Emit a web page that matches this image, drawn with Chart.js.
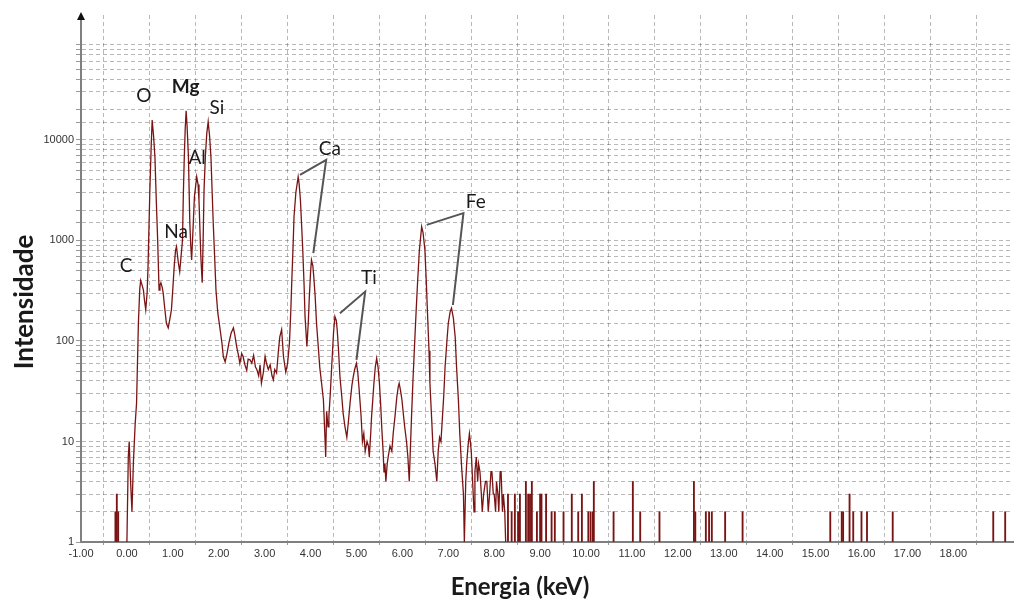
<!DOCTYPE html>
<html lang="pt">
<head>
<meta charset="UTF-8">
<title>Espectro EDS</title>
<script src="https://cdn.jsdelivr.net/npm/chart.js"></script>
<style>
  html, body { margin: 0; padding: 0; background: #fff; }
  #eds { display: block; }
</style>
</head>
<body>
<canvas id="eds" width="1014" height="601"></canvas>
<script>
// espectro principal: energia (keV) e contagens
const energia = [
  0.00, 0.03, 0.05, 0.08, 0.11, 0.14, 0.18, 0.21, 0.25, 0.28, 0.30, 0.33, 0.36, 0.38, 0.41, 0.44,
  0.46, 0.50, 0.53, 0.55, 0.58, 0.61, 0.64, 0.67, 0.70, 0.72, 0.74, 0.77, 0.79, 0.83, 0.86, 0.90,
  0.93, 0.97, 1.00, 1.03, 1.06, 1.08, 1.10, 1.12, 1.15, 1.18, 1.21, 1.23, 1.25, 1.27, 1.29, 1.31,
  1.34, 1.37, 1.39, 1.41, 1.44, 1.47, 1.52, 1.55, 1.57, 1.61, 1.64, 1.66, 1.68, 1.71, 1.74, 1.77,
  1.80, 1.83, 1.88, 1.91, 1.94, 1.98, 2.03, 2.07, 2.10, 2.14, 2.18, 2.22, 2.27, 2.32, 2.35, 2.39,
  2.43, 2.46, 2.50, 2.53, 2.57, 2.61, 2.64, 2.68, 2.72, 2.76, 2.80, 2.83, 2.87, 2.90, 2.93, 2.97,
  3.01, 3.04, 3.08, 3.12, 3.16, 3.19, 3.22, 3.26, 3.30, 3.33, 3.37, 3.41, 3.46, 3.50, 3.54, 3.57,
  3.59, 3.62, 3.64, 3.68, 3.73, 3.75, 3.78, 3.83, 3.86, 3.88, 3.92, 3.95, 3.97, 4.00, 4.02, 4.05,
  4.07, 4.10, 4.13, 4.17, 4.20, 4.24, 4.28, 4.31, 4.33, 4.35, 4.38, 4.40, 4.43, 4.46, 4.50, 4.53,
  4.56, 4.58, 4.61, 4.64, 4.68, 4.71, 4.75, 4.79, 4.82, 4.86, 4.90, 4.93, 4.96, 5.00, 5.03, 5.06,
  5.10, 5.13, 5.16, 5.19, 5.23, 5.26, 5.28, 5.31, 5.33, 5.36, 5.38, 5.41, 5.44, 5.47, 5.50, 5.53,
  5.55, 5.58, 5.60, 5.62, 5.64, 5.67, 5.69, 5.73, 5.77, 5.80, 5.84, 5.88, 5.91, 5.93, 5.96, 5.99,
  6.02, 6.05, 6.09, 6.12, 6.15, 6.18, 6.20, 6.23, 6.26, 6.30, 6.33, 6.37, 6.42, 6.45, 6.49, 6.52,
  6.55, 6.58, 6.60, 6.64, 6.67, 6.71, 6.75, 6.78, 6.81, 6.84, 6.86, 6.90, 6.93, 6.97, 7.00, 7.04,
  7.07, 7.11, 7.15, 7.18, 7.22, 7.25, 7.29, 7.33, 7.35, 7.38, 7.40, 7.43, 7.46, 7.48, 7.50, 7.53,
  7.56, 7.58, 7.61, 7.64, 7.66, 7.69, 7.72, 7.74, 7.77, 7.81, 7.84, 7.87, 7.90, 7.93, 7.95, 7.98,
  8.00, 8.03, 8.05, 8.08, 8.10, 8.13, 8.15, 8.18, 8.20, 8.23, 8.25
];
const contagens = [
  1, 7, 10, 4, 2, 6, 15, 24, 150, 330, 400, 360, 320, 260, 205, 300,
  550, 3200, 9000, 15800, 11000, 6800, 2500, 1000, 320, 360, 380, 340, 300, 200, 150, 135,
  160, 205, 330, 550, 800, 870, 720, 600, 490, 700, 1000, 3000, 6800, 13000, 19500, 14000,
  6800, 1500, 900, 640, 1300, 2700, 4300, 3600, 2500, 690, 380, 1000, 3200, 7000, 11700, 15200,
  11000, 6800, 1500, 700, 320, 190, 130, 95, 70, 62, 75, 95, 120, 135, 115, 88,
  72, 60, 75, 70, 58, 51, 66, 65, 60, 72, 55, 52, 45, 58, 38, 48,
  70, 60, 52, 58, 45, 41, 52, 48, 80, 110, 130, 70, 49, 60, 95, 200,
  380, 900, 1730, 3000, 4300, 3700, 2500, 810, 350, 175, 88, 150, 255, 480, 640, 560,
  435, 280, 150, 85, 55, 38, 26, 12, 7, 20, 14, 18, 30, 55, 120, 175,
  160, 130, 80, 44, 28, 19, 14, 11, 15, 24, 36, 44, 52, 60, 48, 32,
  18, 10, 12, 8, 10, 9, 7, 12, 18, 28, 38, 55, 67, 55, 38, 22,
  14, 8, 5, 6, 4, 6, 7, 9, 8, 12, 18, 28, 35, 38, 32, 26,
  19, 14, 10, 7, 4, 10, 18, 40, 81, 200, 375, 800, 1370, 1200, 810, 400,
  175, 80, 38, 16, 8, 6, 4, 8, 11, 10, 14, 28, 55, 100, 150, 195,
  212, 170, 110, 55, 26, 12, 5.6, 3, 1, 4, 6, 9, 12, 10, 8, 4,
  2, 5, 7, 4, 6, 5, 3, 2, 3, 4, 4, 2, 3, 5, 5, 3,
  3, 2, 4, 3, 2, 5, 5, 2, 3, 2, 1
];

// contagens isoladas (ruido) fora do espectro continuo
const ruidoE = [-0.25, -0.22, -0.19, 8.30, 8.38, 8.45, 8.52, 8.56, 8.69, 8.74, 8.78, 8.82, 8.93, 9.00, 9.03,
  9.13, 9.25, 9.32, 9.51, 9.69, 9.83, 9.91, 10.05, 10.10, 10.15, 10.17, 10.60, 11.02, 11.18, 11.60,
  12.35, 12.38, 12.61, 12.68, 12.74, 13.03, 13.41, 15.32, 15.57, 15.60, 15.74, 15.82, 16.00, 16.12,
  16.68, 18.87, 19.13];
const ruidoC = [2, 3, 2, 3, 2, 3, 2, 3, 4, 3, 3, 4, 2, 3, 3,
  3, 2, 2, 2, 3, 2, 3, 2, 2, 2, 4, 2, 4, 2, 2,
  4, 2, 2, 2, 2, 2, 2, 2, 2, 2, 3, 2, 2, 2,
  2, 2, 2];

// eixos
const xTicks = [-1, 0, 1, 2, 3, 4, 5, 6, 7, 8, 9, 10, 11, 12, 13, 14, 15, 16, 17, 18];
const yLabels = [1, 10, 100, 1000, 10000];

// rotulos dos elementos (posicao em keV / contagens)
const elemNome = ['C', 'O', 'Na', 'Mg', 'Al', 'Si', 'Ca', 'Ti', 'Fe'];
const elemE = [-0.02, 0.37, 1.07, 1.28, 1.53, 1.96, 4.42, 5.27, 7.60];
const elemC = [557, 27400, 1215, 33700, 6620, 20800, 8130, 424, 2415];

// linhas guia: ponta 1 -> vertice -> ponta 2
const caGuiaE = [3.77, 4.34, 4.06], caGuiaC = [4490, 6320, 750];
const tiGuiaE = [4.64, 5.19, 5.00], tiGuiaC = [189, 310, 65];
const feGuiaE = [6.53, 7.33, 7.10], feGuiaC = [1430, 1870, 228];

const corLinha = '#7a1414';
const corGrade = 'rgba(0,0,0,0.28)';

const decor = {
  id: 'decor',
  afterDraw(chart) {
    const { ctx, chartArea: a } = chart;
    const x = chart.scales.x, y = chart.scales.y;
    ctx.save();

    // seta no topo do eixo y
    ctx.fillStyle = '#111';
    ctx.beginPath();
    ctx.moveTo(a.left, a.top - 3);
    ctx.lineTo(a.left - 4, a.top + 5);
    ctx.lineTo(a.left + 4, a.top + 5);
    ctx.closePath();
    ctx.fill();

    // linhas guia
    ctx.strokeStyle = '#555';
    ctx.lineWidth = 2;
    [[caGuiaE, caGuiaC], [tiGuiaE, tiGuiaC], [feGuiaE, feGuiaC]].forEach(([es, cs]) => {
      ctx.beginPath();
      es.forEach((e, i) => {
        const px = x.getPixelForValue(e), py = y.getPixelForValue(cs[i]);
        if (i === 0) ctx.moveTo(px, py); else ctx.lineTo(px, py);
      });
      ctx.stroke();
    });

    // nomes dos elementos
    ctx.fillStyle = '#1a1a1a';
    ctx.textAlign = 'center';
    ctx.textBaseline = 'middle';
    elemNome.forEach((n, i) => {
      ctx.font = (n === 'Mg' ? 'bold ' : '') + '19px Lato';
      ctx.fillText(n, x.getPixelForValue(elemE[i]), y.getPixelForValue(elemC[i]));
    });

    // titulos dos eixos
    ctx.fillStyle = '#1a1a1a';
    ctx.font = 'bold 24px Lato';
    ctx.textBaseline = 'alphabetic';
    ctx.fillText('Energia (keV)', 520, 595);
    ctx.translate(33, 302);
    ctx.rotate(-Math.PI / 2);
    ctx.font = 'bold 26px Lato';
    ctx.fillText('Intensidade', 0, 0);
    ctx.restore();
  }
};

new Chart(document.getElementById('eds'), {
  type: 'line',
  data: {
    datasets: [
      {
        type: 'line',
        data: energia.map((e, i) => ({ x: e, y: contagens[i] })),
        borderColor: corLinha,
        borderWidth: 1.3,
        pointRadius: 0,
        tension: 0,
        fill: false
      },
      {
        type: 'bar',
        data: ruidoE.map((e, i) => ({ x: e, y: ruidoC[i] })),
        backgroundColor: corLinha,
        barThickness: 1.2,
        grouped: false,
        base: 1
      }
    ]
  },
  options: {
    responsive: false,
    animation: false,
    layout: { padding: { top: 15, right: 1, left: 0, bottom: 0 } },
    plugins: { legend: { display: false }, tooltip: { enabled: false } },
    scales: {
      x: {
        type: 'linear',
        min: -1,
        max: 19.3,
        offset: false,
        afterBuildTicks: s => { s.ticks = xTicks.map(v => ({ value: v })); },
        afterFit: s => { s.height = 59; },
        ticks: {
          autoSkip: false,
          maxRotation: 0,
          padding: 2,
          color: '#333',
          font: { family: 'Liberation Sans', size: 11 },
          callback: v => Number(v).toFixed(2)
        },
        grid: { color: corGrade, tickLength: 3, tickColor: '#999' },
        border: { display: true, color: '#808080', width: 2, dash: [4, 3] }
      },
      y: {
        type: 'logarithmic',
        min: 1,
        max: 175000,
        afterBuildTicks: s => { s.ticks = s.ticks.filter(t => t.value <= 95000); },
        afterFit: s => { s.width = 81; },
        ticks: {
          autoSkip: false,
          padding: 2,
          color: '#333',
          font: { family: 'Liberation Sans', size: 11 },
          callback: v => (yLabels.includes(Math.round(v)) && Math.abs(v - Math.round(v)) < 1e-6) ? String(Math.round(v)) : ''
        },
        grid: { color: corGrade, tickLength: 5, tickColor: '#999' },
        border: { display: true, color: '#808080', width: 2, dash: [4, 3] }
      }
    }
  },
  plugins: [decor]
});
</script>
</body>
</html>
